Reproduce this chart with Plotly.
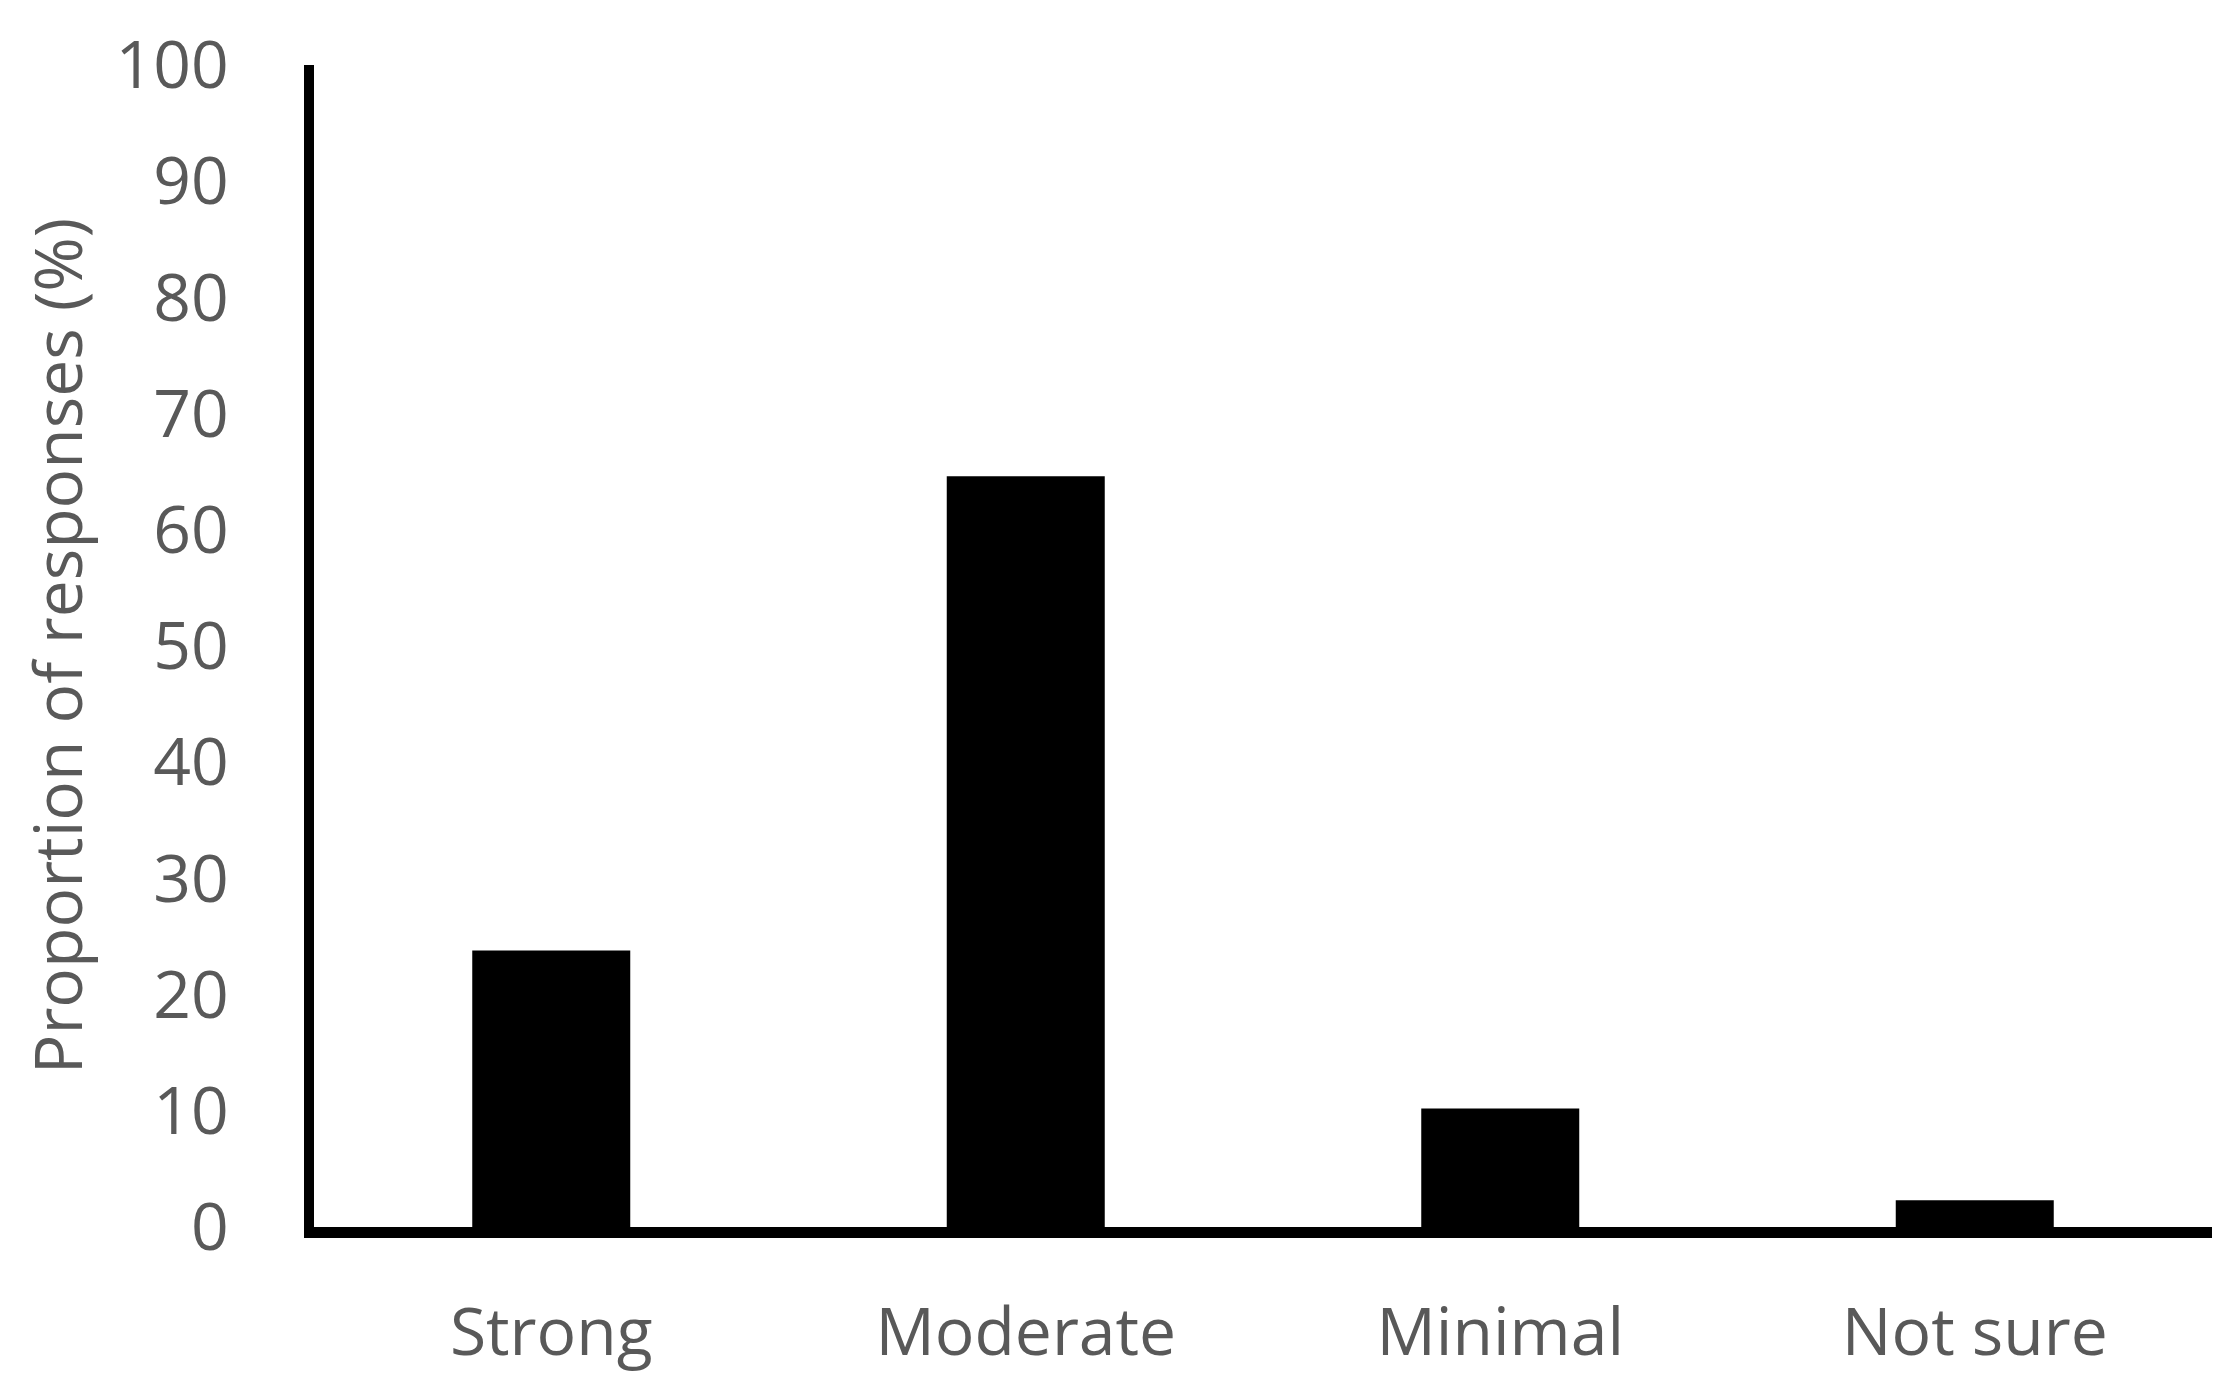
import plotly.graph_objects as go

# Dados
categorias = ["Strong", "Moderate", "Minimal", "Not sure"]
proporcoes = [23.8, 64.6, 10.2, 2.3]
ticks_y = [0, 10, 20, 30, 40, 50, 60, 70, 80, 90, 100]

COR_TEXTO = "#595959"
FONTE = "Open Sans"
TAM = 66


def grafico_respostas() -> go.Figure:
    """
    Gráfico de barras simples com a proporção de respostas por categoria.
    """
    fig = go.Figure(
        go.Bar(
            x=categorias,
            y=proporcoes,
            marker=dict(color="black", line=dict(width=0)),
        )
    )

    fig.update_layout(
        width=2240,
        height=1388,
        margin=dict(l=306, r=36, t=57, b=169),
        plot_bgcolor="white",
        paper_bgcolor="white",
        bargap=0.667,
        showlegend=False,
        font=dict(family=FONTE, size=TAM, color=COR_TEXTO),
    )

    fig.update_yaxes(
        range=[0, 100],
        tickvals=ticks_y,
        automargin=False,
        showgrid=False,
        zeroline=False,
        showline=True,
        linecolor="black",
        linewidth=10,
        ticks="",
        ticklabelstandoff=62,
        tickfont=dict(size=TAM, color=COR_TEXTO),
        title=dict(
            text="Proportion of responses (%)",
            font=dict(size=TAM, color=COR_TEXTO),
            standoff=15,
        ),
    )
    fig.update_xaxes(
        automargin=False,
        showgrid=False,
        zeroline=False,
        showline=True,
        linecolor="black",
        linewidth=11,
        ticks="",
        ticklabelstandoff=38,
        tickfont=dict(size=TAM, color=COR_TEXTO),
    )
    return fig


if __name__ == '__main__':
    fig = grafico_respostas()
    fig.write_html("out.html")
